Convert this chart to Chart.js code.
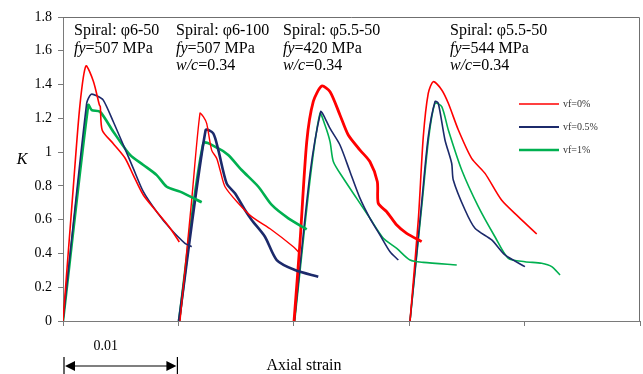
<!DOCTYPE html>
<html>
<head>
<meta charset="utf-8">
<script src="https://cdn.jsdelivr.net/npm/chart.js@4.4.0/dist/chart.umd.min.js"></script>
<style>
  html, body { margin: 0; padding: 0; background: #fff; }
  #wrap { width: 643px; height: 374px; }
</style>
</head>
<body>
<div id="wrap"><canvas id="myChart" width="643" height="374"></canvas></div>
<script>
// --------------- data: [axial strain, K] -------------------------------------------
const yTicks = [0, 0.2, 0.4, 0.6, 0.8, 1, 1.2, 1.4, 1.6, 1.8];
const legendLabels = ['vf=0%', 'vf=0.5%', 'vf=1%'];

// group 1: spiral 6-50, fy=507
const g1Red = [[0,0],[0.00089,0.79],[0.00147,1.28],[0.00199,1.51],[0.00263,1.42],[0.00315,1.28],[0.00323,1.27],[0.0034,1.13],
  [0.00436,1.05],[0.00537,0.965],[0.00609,0.864],[0.00696,0.746],[0.00812,0.647],[0.00927,0.551],[0.01008,0.468]];
const g1Blue = [[0,0],[0.00205,1.289],[0.00243,1.342],[0.00292,1.334],[0.00349,1.308],[0.00436,1.18],[0.00523,1.042],
  [0.00609,0.904],[0.00696,0.766],[0.00812,0.647],[0.00927,0.549],[0.01057,0.46],[0.01115,0.44]];
const g1Green = [[0,0],[0.00219,1.279],[0.00249,1.249],[0.00321,1.239],[0.00436,1.121],[0.00581,0.983],[0.00696,0.924],
  [0.00812,0.864],[0.00899,0.795],[0.01014,0.766],[0.01202,0.703]];

// group 2: spiral 6-100, fy=507
const g2Red = [[0.01014,0],[0.01115,0.716],[0.01187,1.23],[0.01216,1.21],[0.01245,1.17],[0.01288,1.012],[0.01332,0.963],
  [0.01361,0.894],[0.01404,0.795],[0.01519,0.697],[0.01635,0.618],[0.01809,0.539],[0.01996,0.44],[0.02039,0.41]];
const g2Blue = [[0.01005,0],[0.01236,1.131],[0.01302,1.111],[0.01346,1.012],[0.01418,0.815],[0.0149,0.756],[0.01577,0.657],
  [0.01635,0.598],[0.0175,0.499],[0.01852,0.361],[0.0201,0.302],[0.02212,0.262]];
const g2Green = [[0.01005,0],[0.01216,1.052],[0.01346,1.022],[0.01432,0.983],[0.01548,0.894],[0.01693,0.795],
  [0.01809,0.687],[0.01953,0.608],[0.02112,0.543]];

// group 3: spiral 5.5-50, fy=420
const g3Red = [[0.02002,0],[0.02054,0.47],[0.02112,1.06],[0.02169,1.3],[0.02242,1.391],[0.02314,1.358],[0.024,1.22],
  [0.02472,1.101],[0.02574,1.012],[0.0266,0.943],[0.02724,0.825],[0.02732,0.697],[0.02805,0.647],[0.02892,0.568],
  [0.02978,0.519],[0.03108,0.47]];
const g3Blue = [[0.02005,0],[0.0214,0.87],[0.02233,1.24],[0.02256,1.22],[0.02314,1.14],[0.024,1.042],[0.02487,0.884],
  [0.02574,0.726],[0.0266,0.608],[0.02747,0.509],[0.02834,0.41],[0.02906,0.361]];
const g3Green = [[0.02008,0],[0.02145,0.86],[0.02227,1.229],[0.0227,1.16],[0.02314,1.062],[0.02343,0.943],[0.02429,0.845],
  [0.02545,0.726],[0.0266,0.608],[0.02776,0.49],[0.02892,0.43],[0.03007,0.361],[0.03122,0.347],[0.03412,0.332]];

// group 4: spiral 5.5-50, fy=544
const g4Red = [[0.03007,0],[0.03079,0.6],[0.03122,1.09],[0.03165,1.348],[0.03209,1.417],[0.03282,1.368],[0.03339,1.289],
  [0.03426,1.131],[0.03541,0.963],[0.03657,0.874],[0.038,0.716],[0.03945,0.618],[0.04105,0.515]];
const g4Blue = [[0.03007,0],[0.03108,0.7],[0.03165,1.09],[0.03224,1.3],[0.03252,1.289],[0.0331,1.072],[0.03368,0.934],
  [0.03382,0.835],[0.03484,0.657],[0.0357,0.549],[0.03715,0.48],[0.0383,0.391],[0.04003,0.322]];
const g4Green = [[0.03007,0],[0.03112,0.7],[0.0317,1.09],[0.03224,1.289],[0.03282,1.269],[0.03339,1.131],[0.03455,0.894],
  [0.03599,0.677],[0.03743,0.499],[0.03859,0.371],[0.04003,0.351],[0.04148,0.342],[0.04235,0.322],[0.04307,0.272]];

const RED = '#ff0000', BLUE = '#1c2a6b', GREEN = '#00b050';
const SERIF = '"Liberation Serif", "Times New Roman", serif';

// --------------- build datasets -----------------------
function curve(pts, color, width) {
    return {
        data: pts.map(p => ({x: p[0], y: p[1]})),
        borderColor: color,
        backgroundColor: color,
        borderWidth: width,
        showLine: true,
        pointRadius: 0,
        tension: 0.25
    };
}

const datasets = [
    curve(g1Red, RED, 1.6), curve(g1Blue, BLUE, 1.6), curve(g1Green, GREEN, 2.6),
    curve(g2Red, RED, 1.4), curve(g2Blue, BLUE, 2.6), curve(g2Green, GREEN, 2.6),
    curve(g3Red, RED, 2.8), curve(g3Blue, BLUE, 1.6), curve(g3Green, GREEN, 1.6),
    curve(g4Red, RED, 1.6), curve(g4Blue, BLUE, 1.6), curve(g4Green, GREEN, 1.6)
];

// --------------- text runs: [text, italic] -----------------------
const notes = [
    {x: 74, lines: [[['Spiral: φ6-50', false]], [['fy', true], ['=507 MPa', false]]]},
    {x: 176, lines: [[['Spiral: φ6-100', false]], [['fy', true], ['=507 MPa', false]], [['w/c', true], ['=0.34', false]]]},
    {x: 283, lines: [[['Spiral: φ5.5-50', false]], [['fy', true], ['=420 MPa', false]], [['w/c', true], ['=0.34', false]]]},
    {x: 450, lines: [[['Spiral: φ5.5-50', false]], [['fy', true], ['=544 MPa', false]], [['w/c', true], ['=0.34', false]]]}
];

function drawRuns(ctx, runs, x, y, size) {
    for (const r of runs) {
        ctx.font = (r[1] ? 'italic ' : '') + size + 'px ' + SERIF;
        ctx.fillText(r[0], x, y);
        x += ctx.measureText(r[0]).width;
    }
}

const decor = {
    id: 'decor',
    afterDraw(chart) {
        const ctx = chart.ctx;
        const a = chart.chartArea;
        ctx.save();
        // frame top and right
        ctx.strokeStyle = '#6f6f6f';
        ctx.lineWidth = 1;
        ctx.beginPath();
        ctx.moveTo(a.left, a.top + 0.5);
        ctx.lineTo(a.right - 0.5, a.top + 0.5);
        ctx.lineTo(a.right - 0.5, a.bottom);
        ctx.stroke();

        // notes
        ctx.fillStyle = '#000';
        ctx.textBaseline = 'middle';
        ctx.textAlign = 'left';
        for (const n of notes) {
            n.lines.forEach((ln, i) => drawRuns(ctx, ln, n.x, 31 + i * 17.5, 16));
        }

        // legend
        const cols = [RED, BLUE, GREEN];
        const lw = [1.4, 2, 2.6];
        legendLabels.forEach((t, i) => {
            const y = 104 + i * 23;
            ctx.strokeStyle = cols[i];
            ctx.lineWidth = lw[i];
            ctx.beginPath();
            ctx.moveTo(519, y);
            ctx.lineTo(559, y);
            ctx.stroke();
            ctx.fillStyle = '#333';
            ctx.font = '10px ' + SERIF;
            ctx.fillText(t, 563, y);
        });

        // y title
        ctx.fillStyle = '#000';
        ctx.font = 'italic 16px ' + SERIF;
        ctx.textAlign = 'center';
        ctx.fillText('K', 22, 160);

        // scale bar
        const x0 = chart.scales.x.getPixelForValue(0);
        const x1 = chart.scales.x.getPixelForValue(0.01);
        ctx.font = '14px ' + SERIF;
        ctx.fillText('0.01', (x0 + x1) / 2 - 15, 346);
        ctx.font = '16px ' + SERIF;
        ctx.fillText('Axial strain', 304, 366);
        ctx.strokeStyle = '#000';
        ctx.lineWidth = 1.2;
        ctx.beginPath();
        ctx.moveTo(x0 + 1, 357); ctx.lineTo(x0 + 1, 374);
        ctx.moveTo(x1 - 1, 357); ctx.lineTo(x1 - 1, 374);
        ctx.moveTo(x0 + 8, 366); ctx.lineTo(x1 - 8, 366);
        ctx.stroke();
        ctx.beginPath();
        ctx.moveTo(x0 + 2, 366); ctx.lineTo(x0 + 12, 361); ctx.lineTo(x0 + 12, 371); ctx.closePath();
        ctx.moveTo(x1 - 2, 366); ctx.lineTo(x1 - 12, 361); ctx.lineTo(x1 - 12, 371); ctx.closePath();
        ctx.fill();
        ctx.restore();
    }
};

// --------------- chart -----------------------
const ctx = document.getElementById('myChart').getContext('2d');
const myChart = new Chart(ctx, {
    type: 'scatter',
    data: { datasets: datasets },
    options: {
        responsive: false,
        animation: false,
        layout: { padding: { top: 17, right: 3, left: 0, bottom: 0 } },
        plugins: { legend: { display: false }, tooltip: { enabled: false } },
        scales: {
            x: {
                type: 'linear',
                min: 0,
                max: 0.05,
                afterFit: s => { s.height = 53; },
                ticks: { stepSize: 0.01, callback: () => '' },
                grid: { drawOnChartArea: false, tickLength: 5, color: '#7a7a7a' },
                border: { color: '#7a7a7a' }
            },
            y: {
                min: 0,
                max: 1.8,
                afterFit: s => { s.width = 63; },
                afterBuildTicks: s => { s.ticks = yTicks.map(v => ({value: v})); },
                ticks: {
                    color: '#000',
                    padding: 6,
                    font: { family: SERIF, size: 14 },
                    callback: v => String(parseFloat(v.toFixed(1)))
                },
                grid: { drawOnChartArea: false, tickLength: 5, color: '#7a7a7a' },
                border: { color: '#7a7a7a' }
            }
        }
    },
    plugins: [decor]
});
</script>
</body>
</html>
